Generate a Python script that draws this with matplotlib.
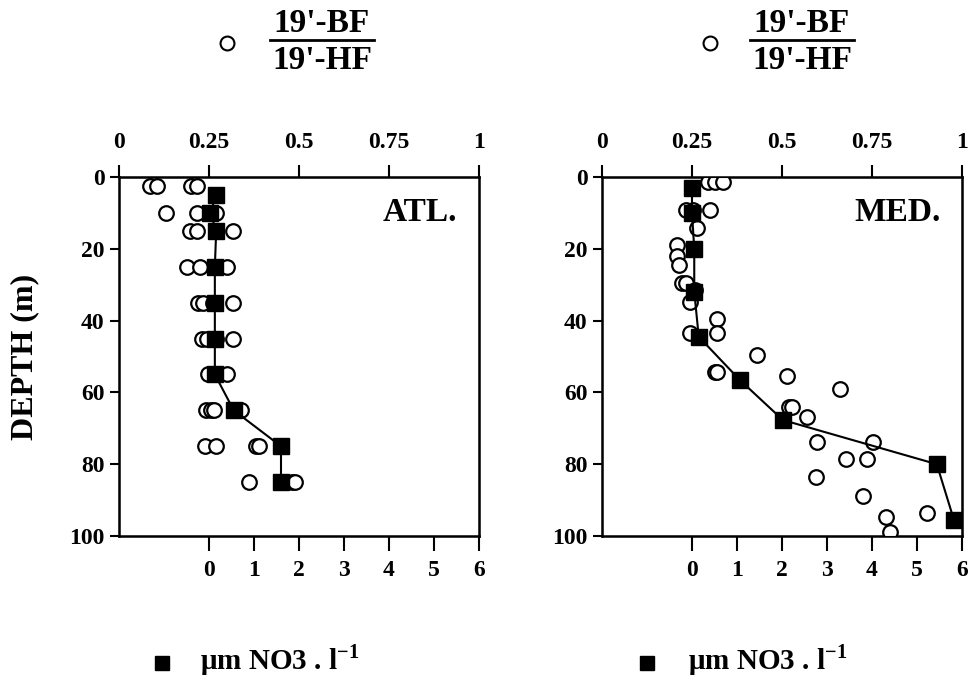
import matplotlib.pyplot as plt
from matplotlib.lines import Line2D

plt.rcParams['font.family'] = ['Liberation Serif', 'DejaVu Serif']
plt.rcParams['font.weight'] = 'bold'
plt.rcParams['mathtext.fontset'] = 'custom'
plt.rcParams['mathtext.rm'] = 'Liberation Serif:bold'

# ATL. panel
atl_no3_depth = [5, 10, 15, 25, 35, 45, 55, 65, 75, 85]
atl_no3 = [0.16, 0.03, 0.16, 0.13, 0.13, 0.13, 0.13, 0.55, 1.6, 1.6]
atl_ratio_depth = [2.5, 2.5, 2.5, 2.5,
                   10, 10, 10,
                   15, 15, 15, 15,
                   25, 25, 25, 25,
                   35, 35, 35, 35,
                   45, 45, 45, 45,
                   55, 55, 55,
                   65, 65, 65, 65,
                   75, 75, 75, 75,
                   85, 85, 85]
atl_ratio = [0.086, 0.105, 0.20, 0.217,
             0.13, 0.217, 0.27,
             0.197, 0.217, 0.27, 0.317,
             0.19, 0.225, 0.27, 0.30,
             0.22, 0.233, 0.26, 0.317,
             0.23, 0.244, 0.27, 0.317,
             0.247, 0.27, 0.30,
             0.243, 0.255, 0.265, 0.34,
             0.24, 0.27, 0.38, 0.39,
             0.36, 0.48, 0.49]

# MED. panel
med_no3_depth = [3, 10, 20, 32, 44.5, 56.5, 67.7, 80, 95.5]
med_no3 = [0.0, 0.0, 0.05, 0.05, 0.15, 1.06, 2.02, 5.44, 5.82]
med_ratio_depth = [1.5, 1.5, 1.5, 9.2, 9.2, 9.2, 14.2, 19, 22, 24.5,
                   29.5, 29.5, 31.5, 34.8, 39.6, 43.4, 43.4, 49.6, 54.3, 54.3,
                   55.4, 59, 64, 64, 66.8, 73.8, 73.8, 78.6, 78.6, 83.6,
                   88.9, 93.6, 94.7, 98.9]
med_ratio = [0.295, 0.314, 0.336, 0.233, 0.253, 0.30, 0.263, 0.208, 0.208, 0.214,
             0.222, 0.233, 0.258, 0.244, 0.32, 0.244, 0.32, 0.43, 0.314, 0.32,
             0.514, 0.66, 0.52, 0.528, 0.57, 0.597, 0.753, 0.678, 0.736, 0.594,
             0.725, 0.903, 0.789, 0.80]

ratio_ticks = [0, 0.25, 0.5, 0.75, 1]
ratio_labels = ['0', '0.25', '0.5', '0.75', '1']
no3_ticks = [0, 1, 2, 3, 4, 5, 6]
depth_ticks = [0, 20, 40, 60, 80, 100]

W, H = 979, 677
fig = plt.figure(figsize=(W / 100, H / 100), dpi=100)


def panel(left, name, rd, rv, nd, nv):
    ax = fig.add_axes([left / W, 1 - 536 / H, 360 / W, 359 / H])
    ax2 = ax.twiny()

    # ratio axis on top
    ax.set_xlim(0, 1)
    ax.set_ylim(100, 0)
    ax.xaxis.tick_top()
    ax.set_xticks(ratio_ticks)
    ax.set_xticklabels(ratio_labels)
    ax.set_yticks(depth_ticks)
    ax.tick_params(axis='x', direction='out', length=8.5, width=1.5, pad=9, labelsize=17,
                   top=True, bottom=False, labeltop=True, labelbottom=False)
    ax.tick_params(axis='y', direction='out', length=6.5, width=1.5, pad=4, labelsize=17)
    for s in ax.spines.values():
        s.set_linewidth(1.8)
    ax.plot(rv, rd, 'o', ms=10.5, mfc='white', mec='black', mew=1.6, zorder=3)

    # nitrate axis on the bottom
    ax2.set_xlim(-2, 6)
    ax2.xaxis.tick_bottom()
    ax2.set_xticks(no3_ticks)
    ax2.tick_params(axis='x', direction='out', length=11, width=1.5, pad=6, labelsize=17,
                    top=False, bottom=True, labeltop=False, labelbottom=True)
    ax2.plot(nv, nd, '-', color='black', lw=1.5, zorder=4)
    ax2.plot(nv, nd, 's', ms=11, color='black', zorder=5)
    ax2.set_ylim(100, 0)
    ax2.text(0.94, 0.9, name, transform=ax.transAxes, ha='right', va='center',
             fontsize=24, fontweight='bold')
    return ax


panel(119, 'ATL.', atl_ratio_depth, atl_ratio, atl_no3_depth, atl_no3)
panel(602, 'MED.', med_ratio_depth, med_ratio, med_no3_depth, med_no3)

fig.text(25 / W, 1 - 357 / H, 'DEPTH (m)', rotation=90, ha='center', va='center',
         fontsize=23, fontweight='bold')

# top legends (open circle + fraction)
for cx, fx in [(227, 322), (710, 802)]:
    fig.add_artist(Line2D([cx / W], [1 - 43 / H], marker='o', ms=10, mfc='white',
                          mec='black', mew=1.5))
    fig.text(fx / W, 1 - 32 / H, "19'-BF", ha='center', va='baseline', fontsize=24,
             fontweight='bold')
    fig.text(fx / W, 1 - 69 / H, "19'-HF", ha='center', va='baseline', fontsize=24,
             fontweight='bold')
    fig.add_artist(Line2D([(fx - 52) / W, (fx + 52) / W], [1 - 40 / H, 1 - 40 / H],
                          color='black', lw=2))

# bottom legends (filled square + units)
for sx, tx in [(162, 200), (647, 688)]:
    fig.add_artist(Line2D([sx / W], [1 - 663 / H], marker='s', ms=10, color='black'))
    fig.text(tx / W, 1 - 669 / H, r'μm NO3 . l$^{\mathrm{-1}}$', ha='left', va='baseline',
             fontsize=21, fontweight='bold')

fig.savefig('out.png', dpi=100)
